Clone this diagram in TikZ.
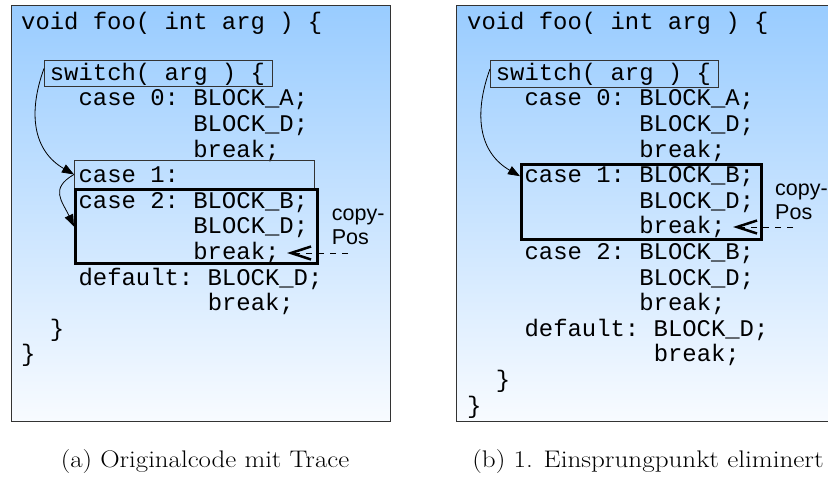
\documentclass[tikz,border=0pt]{standalone}
\usepackage{fontspec}
\setmonofont{Liberation Mono}
\setsansfont{Liberation Sans}
\usetikzlibrary{positioning, arrows.meta, calc}
\definecolor{cPanelTop}{HTML}{99CCFF}
\definecolor{cPanelBot}{HTML}{F8FBFF}
\definecolor{cFrame}{HTML}{333333}

\begin{document}
\begin{tikzpicture}[
  x=1pt, y=1pt,
  panel/.style={draw=cFrame, line width=1pt,
    top color=cPanelTop, bottom color=cPanelBot},
  code/.style={anchor=base west, inner sep=0pt,
    font=\ttfamily\fontsize{23.9}{25.6}\selectfont},
  thinbox/.style={draw=cFrame, line width=0.9pt, anchor=north west,
    inner sep=0pt},
  thickbox/.style={draw=black, line width=3pt, anchor=north west,
    inner sep=0pt},
  jump/.style={-{Triangle[length=12pt, width=9pt]}, line width=0.8pt},
  copyline/.style={-{Straight Barb[length=20pt, width=13pt, line width=2.5pt]},
    line width=0.8pt, dash pattern=on 6pt off 6pt},
  note/.style={font=\sffamily\fontsize{21.5}{24}\selectfont, align=left,
    anchor=north west, inner sep=0pt},
  caption/.style={font=\fontsize{24}{26}\selectfont, inner sep=0pt},
]
\useasboundingbox (0,0) rectangle (828,-483);
\clip (0,0) rectangle (828,-483);

% panels
\draw[panel] (11.5,-5.5) rectangle (390.7,-421.7);
\shade[top color=cPanelTop, bottom color=cPanelBot]
  (456.7,-5.5) rectangle (840,-421.7);
\draw[cFrame, line width=1pt] (840,-5.5) -- (456.7,-5.5)
  -- (456.7,-421.7) -- (840,-421.7);

% left: original code
\foreach \c/\k/\t in {0/0/{void foo( int arg ) \{}, 2/2/{switch( arg ) \{},
  4/3/{case 0: BLOCK\_A;}, 12/4/{BLOCK\_D;}, 12/5/{break;},
  4/6/{case 1:}, 4/7/{case 2: BLOCK\_B;}, 12/8/{BLOCK\_D;}, 12/9/{break;},
  4/10/{default: BLOCK\_D;}, 13/11/{break;}, 2/12/{\}}, 0/13/{\}}} {
  \node[code] (lA\k) at ({21+14.35*\c}, {-29-25.6*\k}) {\t};
}

% right: first entry point removed
\foreach \c/\k/\t in {0/0/{void foo( int arg ) \{}, 2/2/{switch( arg ) \{},
  4/3/{case 0: BLOCK\_A;}, 12/4/{BLOCK\_D;}, 12/5/{break;},
  4/6/{case 1: BLOCK\_B;}, 12/7/{BLOCK\_D;}, 12/8/{break;},
  4/9/{case 2: BLOCK\_B;}, 12/10/{BLOCK\_D;}, 12/11/{break;},
  4/12/{default: BLOCK\_D;}, 13/13/{break;}, 2/14/{\}}, 0/15/{\}}} {
  \node[code] (lB\k) at ({467+14.35*\c}, {-29-25.6*\k}) {\t};
}

% boxes
\node[thinbox, minimum width=228, minimum height=26] (swA) at (44,-60) {};
\node[thinbox, minimum width=240, minimum height=28] (c1A) at (74,-160) {};
\node[thickbox, minimum width=242, minimum height=74] (blkA) at (74,-188) {};
\node[thinbox, minimum width=228, minimum height=27] (swB) at (490,-60) {};
\node[thickbox, minimum width=240, minimum height=75] (blkB) at (520,-163) {};

% trace arrows
\draw[jump] ([yshift=5pt]swA.west) to[out=250, in=150, looseness=1.1] (c1A.west);
\draw[jump] (c1A.west) to[out=210, in=115, looseness=1.4] (blkA.west);
\draw[jump] ([yshift=5pt]swB.west) to[out=250, in=150, looseness=1.1] (blkB.168);

% copy position
\coordinate (cpA) at (348,-253);
\coordinate (tipA) at (287,-253);
\draw[copyline] (cpA) -- (tipA);
\node[note] (posA) at (331.7,-209) {copy-\\Pos};
\coordinate (cpB) at (793,-227);
\coordinate (tipB) at (733,-227);
\draw[copyline] (cpB) -- (tipB);
\node[note] (posB) at (775,-184) {copy-\\Pos};

% captions
\node[caption] (capA) at (205,-462) {\scalebox{1.12}[1]{(a) Originalcode mit Trace}};
\node[caption] (capB) at (648,-462) {\scalebox{1.13}[1]{(b) 1. Einsprungpunkt eliminert}};

\end{tikzpicture}
\end{document}
